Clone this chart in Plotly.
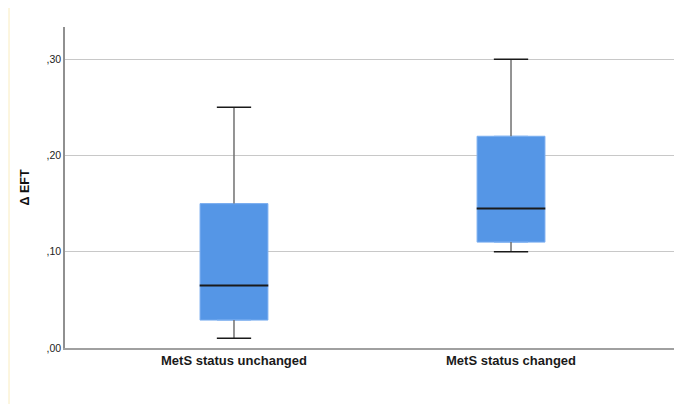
import plotly.graph_objects as go

categories = ["MetS status unchanged", "MetS status changed"]
lower = [0.01, 0.10]
q1 = [0.029, 0.110]
median = [0.065, 0.145]
q3 = [0.150, 0.220]
upper = [0.250, 0.300]
tick_vals = [0.0, 0.1, 0.2, 0.3]
tick_text = [",00", ",10", ",20", ",30"]

fig = go.Figure()

# whisker stems
sx, sy = [], []
for c, lo, a, b, hi in zip(categories, lower, q1, q3, upper):
    sx += [c, c, None, c, c, None]
    sy += [b, hi, None, a, lo, None]
fig.add_trace(go.Scatter(x=sx, y=sy, mode="lines", line=dict(color="#707070", width=1.5),
                         hoverinfo="skip", showlegend=False))

# box bodies
fig.add_trace(go.Box(x=categories, q1=q1, median=median, q3=q3,
                     lowerfence=q1, upperfence=q3, width=0.245,
                     fillcolor="#5596e6", line=dict(color="#7aaef0", width=1),
                     boxpoints=False, showlegend=False))

# median lines
fig.add_trace(go.Scatter(x=categories, y=median, mode="markers",
                         marker=dict(symbol="line-ew", size=49, line=dict(color="#1a1a1a", width=2)),
                         showlegend=False, hoverinfo="skip"))

# whisker caps
fig.add_trace(go.Scatter(x=categories + categories, y=upper + lower, mode="markers",
                         marker=dict(symbol="line-ew", size=24.5, line=dict(color="#1a1a1a", width=1.5)),
                         showlegend=False, hoverinfo="skip"))

fig.update_layout(
    width=674, height=396,
    margin=dict(l=57, r=2, t=19, b=56),
    paper_bgcolor="white", plot_bgcolor="white",
    font=dict(family="Arial, Liberation Sans, sans-serif", color="#222"),
    xaxis=dict(range=[-0.61, 1.61], showgrid=False, showline=True, linecolor="#a0a0a0",
               linewidth=1.5, ticks="", tickfont=dict(size=13, color="#1a1a1a", weight="bold"),
               zeroline=False),
    yaxis=dict(range=[0, 0.3335], tickvals=tick_vals, ticktext=tick_text, showgrid=True,
               gridcolor="#c8c8c8", gridwidth=1, showline=True, linecolor="#909090", linewidth=1.5,
               ticks="", tickfont=dict(size=10.5, color="#222"), zeroline=False,
               title=dict(text="Δ EFT", font=dict(size=12.5, color="#111", weight="bold"), standoff=14)),
    shapes=[dict(type="rect", xref="paper", yref="paper", x0=-0.091, x1=1.2, y0=-0.5, y1=1.0685,
                 line=dict(color="#fbf3d5", width=1.5), fillcolor="rgba(0,0,0,0)", layer="below")],
)

fig.write_html("out.html")
